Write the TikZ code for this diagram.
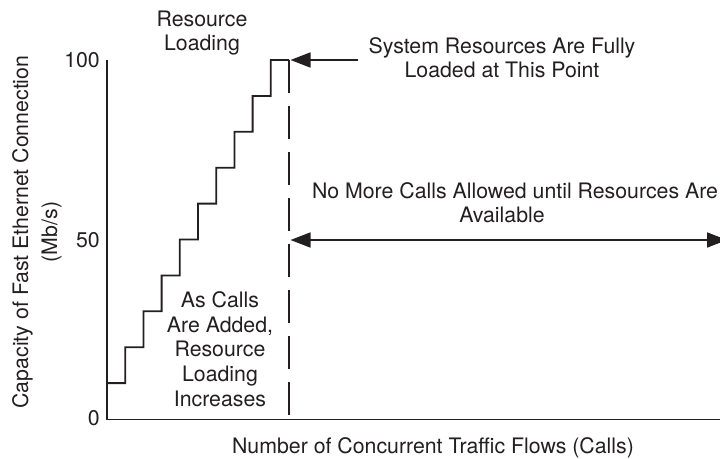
\documentclass[tikz,border=0pt]{standalone}
\usepackage{fontspec}
\setmainfont{TeX Gyre Heros}
\usetikzlibrary{arrows.meta}
\definecolor{ink}{HTML}{231F20}
\begin{document}
\begin{tikzpicture}[x=1pt,y=-1pt,
  every node/.style={font=\fontsize{21.3}{24.6}\selectfont, text=ink, inner sep=0pt},
  note/.style={align=center},
  axisline/.style={draw=ink, line width=1.9pt, line join=miter},
  stairs/.style={draw=ink, line width=1.8pt, line join=miter},
  limitline/.style={draw=ink, line width=1.8pt, dash pattern=on 33pt off 13pt},
  pointer/.style={draw=ink, line width=1.7pt, -{Triangle[length=20pt,width=15pt]}},
  span/.style={draw=ink, line width=1.7pt,
    {Triangle[length=20pt,width=15pt]}-{Triangle[length=20pt,width=15pt]}}
]
\useasboundingbox (0,0) rectangle (720,458);
\clip (0,0) rectangle (720,458);

% frame of the chart
\coordinate (origin) at (107,419.5);
\coordinate (ytop) at (107,60);
\coordinate (xend) at (720,419.5);
\coordinate (peak) at (289,60);
\coordinate (peakbot) at (289,419.5);
\coordinate (peaktip) at (290.5,60);
\coordinate (spanL) at (290.5,240);
\coordinate (spanR) at (727,240);

% staircase of resource loading, ten steps of 10 Mb/s
\draw[stairs] (107,383.1)
  \foreach \k in {1,...,9} {
    -- ({107+\k*18.2},{419-\k*35.9}) -- ({107+\k*18.2},{419-(\k+1)*35.9})
  } -- (peak);

% axes
\draw[axisline] (ytop) -- (origin) -- (xend);

% limit where resources are exhausted
\draw[limitline] (peak) -- (peakbot);

% tick labels
\node[anchor=east] (t100) at (100,60) {100};
\node[anchor=east] (t50) at (100,240) {50};
\node[anchor=east] (t0) at (100,418.5) {0};

% texts
\node[note] (res) at (202,33) {Resource\\Loading};
\node[note] (full) at (502,57.7) {System Resources Are Fully\\Loaded at This Point};
\node[note] (nomore) at (515,202.6) {No More Calls Allowed until Resources Are\\Available\hspace*{26pt}};
\node[note] (added) at (220,349) {As Calls\\Are Added,\\Resource\\Loading\\Increases};
\node[anchor=base] (xlab) at (433,453) {Number of Concurrent Traffic Flows (Calls)};
\node[note, rotate=90] (ylab) at (37,232) {Capacity of Fast Ethernet Connection\\[4.4pt](Mb/s)};

% arrows
\draw[pointer] ([xshift=-10pt]full.west |- peak) -- (peaktip);
\draw[span] (spanL) -- (spanR);
\end{tikzpicture}
\end{document}
